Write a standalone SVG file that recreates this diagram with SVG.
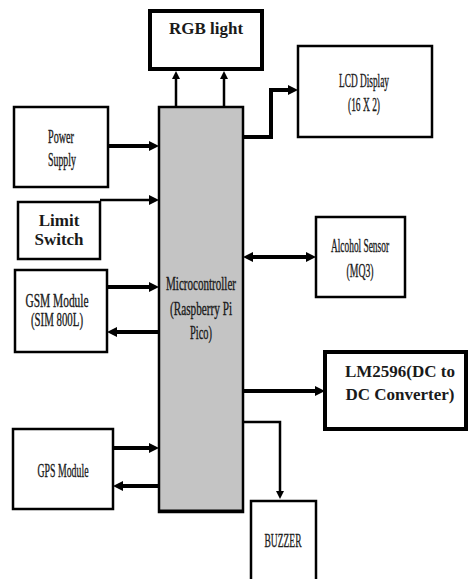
<svg xmlns="http://www.w3.org/2000/svg" width="469" height="579" viewBox="0 0 469 579">
<style>
  .box{fill:#fff;stroke:#000;stroke-width:2.5}
  .thick{fill:#fff;stroke:#000;stroke-width:4}
  .mc{fill:#c4c4c4;stroke:#000;stroke-width:2.5}
  .cn{font-family:"Liberation Serif",serif;font-size:18px;fill:#1a1a1a;stroke:#1a1a1a;stroke-width:0.35;text-anchor:middle}
  .bd{font-family:"Liberation Serif",serif;font-size:17px;font-weight:bold;fill:#1a1a1a;text-anchor:middle}
  .w4{fill:none;stroke:#000;stroke-width:4}
  .w3{fill:none;stroke:#000;stroke-width:2.5}
</style>
<defs>
  <marker id="ah" markerUnits="userSpaceOnUse" markerWidth="11" markerHeight="11" refX="2" refY="5" orient="auto-start-reverse">
    <path d="M0,0 L10,5 L0,10 z" fill="#000"/>
  </marker>
  <marker id="ahs" markerUnits="userSpaceOnUse" markerWidth="9" markerHeight="9" refX="2" refY="4" orient="auto">
    <path d="M0,0 L8,4 L0,8 z" fill="#000"/>
  </marker>
</defs>

<g id="rgb">
  <rect class="thick" x="150" y="11" width="112" height="58"/>
  <text class="bd" x="206" y="34">RGB light</text>
</g>
<g id="micro">
  <rect class="mc" x="159" y="107" width="84" height="405"/>
  <line x1="158" y1="511" x2="244" y2="511" stroke="#000" stroke-width="3"/>
  <text class="cn" x="201" y="290" font-size="19" textLength="70" lengthAdjust="spacingAndGlyphs">Microcontroller</text>
  <text class="cn" x="201" y="315" font-size="19" textLength="62" lengthAdjust="spacingAndGlyphs">(Raspberry Pi</text>
  <text class="cn" x="201" y="339" font-size="19" textLength="22" lengthAdjust="spacingAndGlyphs">Pico)</text>
</g>
<g id="power">
  <rect class="box" x="14" y="107" width="94" height="80"/>
  <text class="cn" x="61" y="143" textLength="26" lengthAdjust="spacingAndGlyphs">Power</text>
  <text class="cn" x="62" y="166" textLength="28" lengthAdjust="spacingAndGlyphs">Supply</text>
</g>
<g id="limit">
  <rect class="box" x="18" y="202" width="82" height="57"/>
  <text class="bd" x="59" y="226" font-size="15.5">Limit</text>
  <text class="bd" x="59" y="245" font-size="15.5">Switch</text>
</g>
<g id="gsm">
  <rect class="box" x="15" y="270" width="92" height="82"/>
  <text class="cn" x="57" y="307" textLength="63" lengthAdjust="spacingAndGlyphs">GSM Module</text>
  <text class="cn" x="57" y="326" textLength="52" lengthAdjust="spacingAndGlyphs">(SIM 800L)</text>
</g>
<g id="gps">
  <rect class="box" x="13" y="429" width="100" height="80"/>
  <text class="cn" x="63" y="477" textLength="51" lengthAdjust="spacingAndGlyphs">GPS Module</text>
</g>
<g id="lcd">
  <rect class="box" x="298" y="46" width="134" height="91"/>
  <text class="cn" x="364" y="87" textLength="50" lengthAdjust="spacingAndGlyphs">LCD Display</text>
  <text class="cn" x="364" y="111" textLength="32" lengthAdjust="spacingAndGlyphs">(16 X 2)</text>
</g>
<g id="alcohol">
  <rect class="box" x="316" y="217" width="89" height="80"/>
  <text class="cn" x="360" y="252" textLength="58" lengthAdjust="spacingAndGlyphs">Alcohol Sensor</text>
  <text class="cn" x="360" y="277" textLength="27" lengthAdjust="spacingAndGlyphs">(MQ3)</text>
</g>
<g id="lm2596">
  <rect class="thick" x="325" y="352" width="141" height="77"/>
  <text class="bd" x="400" y="377">LM2596(DC to</text>
  <text class="bd" x="400" y="400">DC Converter)</text>
</g>
<g id="buzzer">
  <rect class="box" x="251" y="501" width="65" height="90"/>
  <text class="cn" x="283" y="547" textLength="37" lengthAdjust="spacingAndGlyphs">BUZZER</text>
</g>

<g id="connectors">
  <line class="w3" x1="176" y1="106" x2="176" y2="77" marker-end="url(#ahs)"/>
  <line class="w3" x1="224" y1="106" x2="224" y2="77" marker-end="url(#ahs)"/>
  <line class="w4" x1="108" y1="146" x2="151" y2="146" marker-end="url(#ah)"/>
  <line class="w3" x1="100" y1="200" x2="151" y2="200" marker-end="url(#ah)"/>
  <line class="w4" x1="107" y1="287" x2="151" y2="287" marker-end="url(#ah)"/>
  <line class="w4" x1="159" y1="332" x2="115" y2="332" marker-end="url(#ah)"/>
  <line class="w4" x1="113" y1="448" x2="151" y2="448" marker-end="url(#ah)"/>
  <line class="w4" x1="159" y1="486" x2="121" y2="486" marker-end="url(#ah)"/>
  <polyline class="w4" points="243,137 271,137 271,90 290,90" marker-end="url(#ah)"/>
  <line class="w4" x1="251" y1="257" x2="308" y2="257" marker-start="url(#ah)" marker-end="url(#ah)"/>
  <line class="w4" x1="243" y1="391" x2="317" y2="391" marker-end="url(#ah)"/>
  <polyline class="w3" points="243,422 280,422 280,493" marker-end="url(#ahs)"/>
</g>
</svg>
